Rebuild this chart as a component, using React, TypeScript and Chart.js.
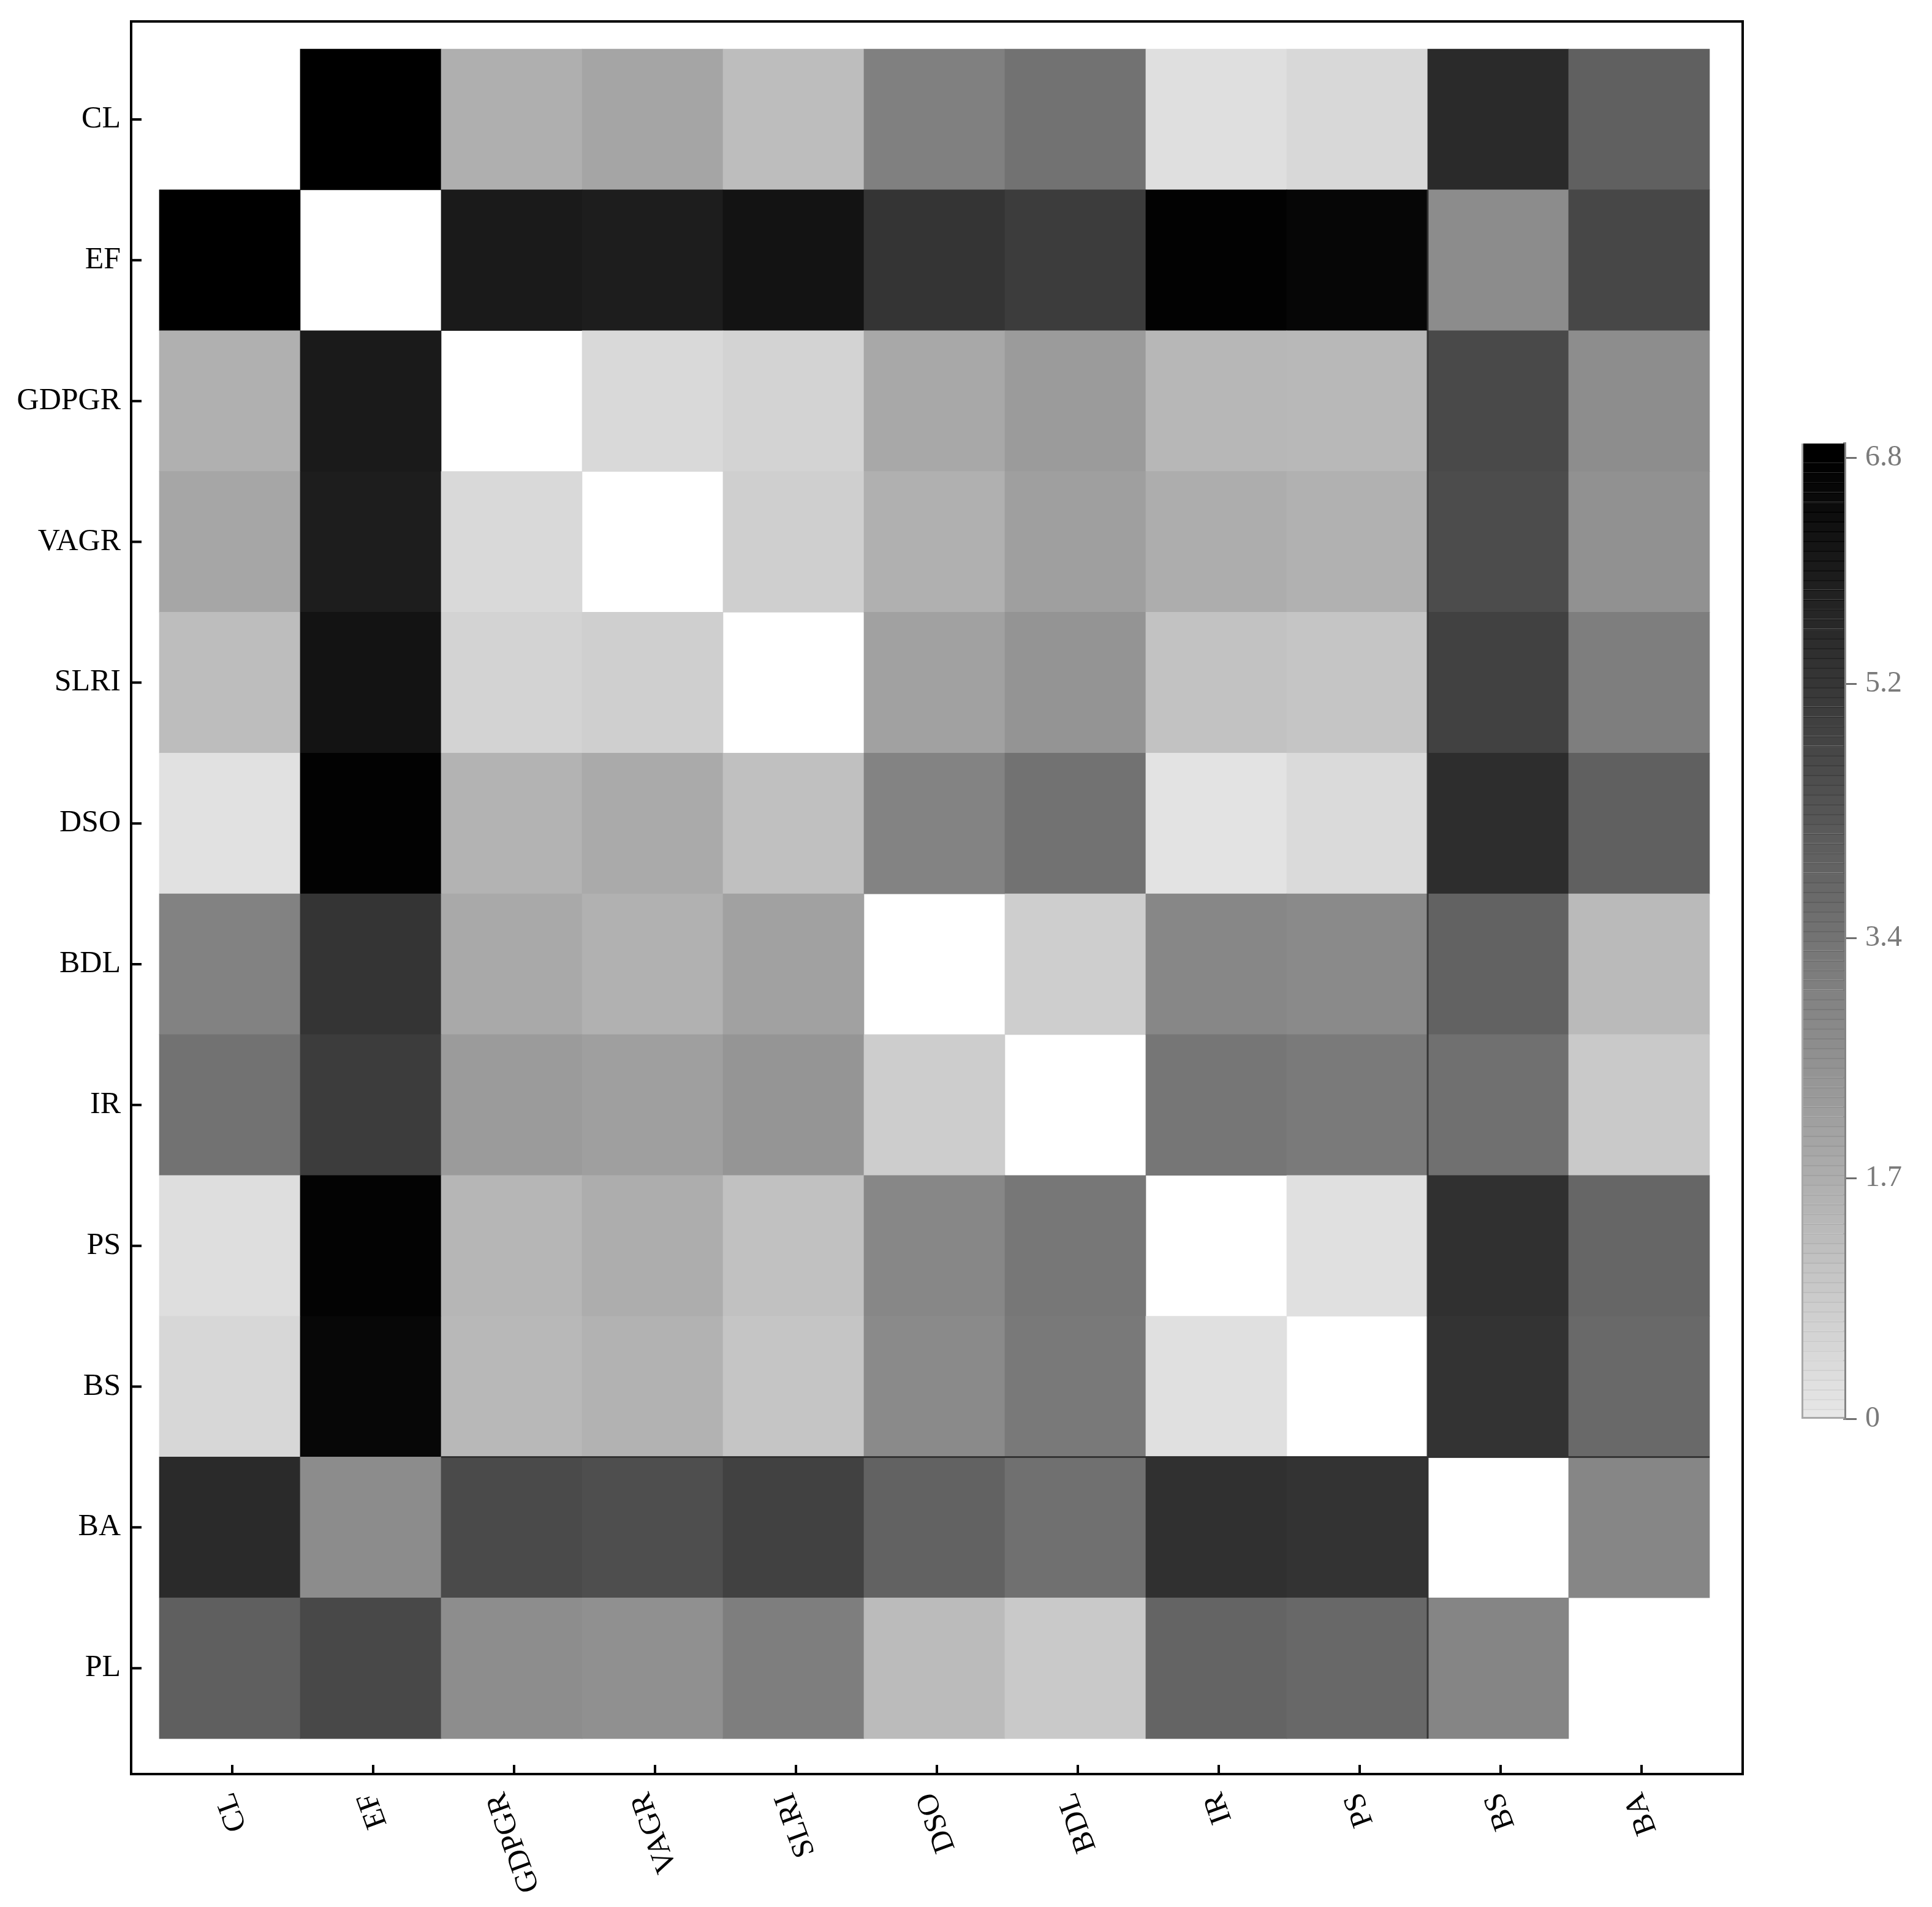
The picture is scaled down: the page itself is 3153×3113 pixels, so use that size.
import React, { useEffect, useRef } from "react";
import { Chart, registerables } from "chart.js";

Chart.register(...registerables);

// ---- data ----
const rowLabels = ["CL", "EF", "GDPGR", "VAGR", "SLRI", "DSO", "BDL", "IR", "PS", "BS", "BA", "PL"];
const colLabels = ["CL", "EF", "GDPGR", "VAGR", "SLRI", "DSO", "BDL", "IR", "PS", "BS", "BA"];

const rowCL = [null, 6.8, 1.67, 1.96, 1.26, 3.05, 3.46, 0.26, 0.47, 5.57, 3.99];
const rowEF = [6.8, null, 6.04, 5.95, 6.24, 5.28, 5.04, 6.74, 6.62, 2.7, 4.72];
const rowGDPGR = [1.64, 6.04, null, 0.44, 0.62, 1.88, 2.26, 1.44, 1.41, 4.66, 2.67];
const rowVAGR = [1.93, 5.95, 0.44, null, 0.73, 1.64, 2.14, 1.73, 1.61, 4.57, 2.55];
const rowSLRI = [1.26, 6.24, 0.62, 0.73, null, 2.08, 2.46, 1.11, 1.03, 4.89, 3.11];
const rowDSO = [0.21, 6.74, 1.55, 1.82, 1.17, 2.96, 3.46, 0.15, 0.41, 5.48, 3.99];
const rowBDL = [2.99, 5.28, 1.85, 1.61, 2.08, null, 0.76, 2.84, 2.76, 3.93, 1.35];
const rowIR = [3.46, 5.04, 2.26, 2.14, 2.43, 0.79, null, 3.34, 3.22, 3.52, 0.91];
const rowPS = [0.29, 6.71, 1.47, 1.73, 1.14, 2.84, 3.31, null, 0.23, 5.39, 3.81];
const rowBS = [0.5, 6.59, 1.41, 1.58, 1.03, 2.76, 3.25, 0.23, null, 5.31, 3.72];
const rowBA = [5.57, 2.7, 4.63, 4.51, 4.89, 3.93, 3.52, 5.39, 5.31, null, 2.87];
const rowPL = [4.02, 4.69, 2.67, 2.58, 3.11, 1.32, 0.91, 3.87, 3.75, 2.9, null];

const matrix = [rowCL, rowEF, rowGDPGR, rowVAGR, rowSLRI, rowDSO, rowBDL, rowIR, rowPS, rowBS, rowBA, rowPL];

const colorbarTicks = [0, 1.7, 3.4, 5.2, 6.8];
const colorMin = 0;
const colorMax = 6.8;
const colorbarTop = 6.9;

// ---- colour map (light grey -> black) ----
function grayLevel(v: number) {
  const t = Math.min(Math.max((v - colorMin) / (colorMax - colorMin), 0), 1);
  return Math.round(232 * (1 - t));
}
function grayFor(v: number, darken = 0) {
  const g = Math.max(0, grayLevel(v) - darken);
  return `rgb(${g},${g},${g})`;
}

const FONT = "'Liberation Serif', 'Times New Roman', serif";
const XH = 200;
const LABEL_SIZE = 50;

const framePlugin = {
  id: "heatFrame",
  afterDraw(chart: any) {
    const { ctx, chartArea: a, scales } = chart;
    const x = scales.x;
    const y = scales.y;
    ctx.save();
    // thin dark block edges seen in the picture
    ctx.strokeStyle = "rgba(45,45,45,0.9)";
    ctx.lineWidth = 3;
    const xb = x.getPixelForValue(8.5);
    const yb = y.getPixelForValue(9.5);
    ctx.beginPath();
    ctx.moveTo(xb, y.getPixelForValue(0.5));
    ctx.lineTo(xb, y.getPixelForValue(11.5));
    ctx.moveTo(x.getPixelForValue(1.5), yb);
    ctx.lineTo(x.getPixelForValue(10.5), yb);
    ctx.stroke();

    // frame
    ctx.strokeStyle = "#000";
    ctx.lineWidth = 4;
    ctx.strokeRect(a.left, a.top, a.right - a.left, a.bottom - a.top);
    // inward ticks
    ctx.beginPath();
    rowLabels.forEach((_, r) => {
      const py = y.getPixelForValue(r);
      ctx.moveTo(a.left, py);
      ctx.lineTo(a.left + 17, py);
    });
    colLabels.forEach((_, c) => {
      const px = x.getPixelForValue(c) + 4;
      ctx.moveTo(px, a.bottom);
      ctx.lineTo(px, a.bottom - 15);
    });
    ctx.stroke();

    // rotated column labels (rotation 110 deg, centred under tick)
    ctx.font = `${LABEL_SIZE}px ${FONT}`;
    ctx.fillStyle = "#000";
    ctx.textAlign = "center";
    ctx.textBaseline = "middle";
    const ang = (-110 * Math.PI) / 180;
    const s70 = Math.sin((70 * Math.PI) / 180);
    const c70 = Math.cos((70 * Math.PI) / 180);
    colLabels.forEach((lab, c) => {
      const px = x.getPixelForValue(c) + 4;
      const L = ctx.measureText(lab).width;
      const h = LABEL_SIZE * 0.7;
      const halfV = (L * s70 + h * c70) / 2;
      ctx.save();
      ctx.translate(px, a.bottom + 26 + halfV);
      ctx.rotate(ang);
      ctx.fillText(lab, 0, 0);
      ctx.restore();
    });
    ctx.restore();
  },
};

const cbFramePlugin = {
  id: "cbFrame",
  afterDraw(chart: any) {
    const { ctx, chartArea: a } = chart;
    ctx.save();
    ctx.strokeStyle = "#a8a8a8";
    ctx.lineWidth = 3;
    ctx.beginPath();
    ctx.moveTo(a.left + 1.5, a.top);
    ctx.lineTo(a.left + 1.5, a.bottom - 1.5);
    ctx.lineTo(a.right, a.bottom - 1.5);
    ctx.stroke();
    ctx.restore();
  },
};

export default function App() {
  const mainRef = useRef<HTMLCanvasElement>(null);
  const cbRef = useRef<HTMLCanvasElement>(null);

  useEffect(() => {
    const cells: any[] = [];
    matrix.forEach((row, r) =>
      row.forEach((v, c) => {
        if (v !== null) cells.push({ x: c, y: [r - 0.5, r + 0.5], v });
      })
    );

    const main = new Chart(mainRef.current as HTMLCanvasElement, {
      type: "bar",
      data: {
        datasets: [
          {
            data: cells,
            backgroundColor: (ctx: any) => grayFor(ctx.raw ? ctx.raw.v : 0),
            borderWidth: 0,
            barPercentage: 1,
            categoryPercentage: 1,
          } as any,
        ],
      },
      options: {
        animation: false,
        responsive: false,
        devicePixelRatio: 1,
        layout: { padding: { left: 0, top: 35, right: 3153 - 2844, bottom: 3113 - 2896 - XH } },
        plugins: { legend: { display: false }, tooltip: { enabled: false } },
        scales: {
          x: {
            type: "linear",
            position: "bottom",
            offset: false,
            min: -0.7,
            max: 10.735,
            grid: { display: false, offset: false },
            border: { display: false },
            afterBuildTicks: (s: any) => {
              s.ticks = colLabels.map((_, i) => ({ value: i }));
            },
            afterFit: (s: any) => {
              s.height = XH;
              s.paddingLeft = 0;
              s.paddingRight = 0;
            },
            ticks: { display: false, autoSkip: false },
          },
          y: {
            type: "linear",
            reverse: true,
            offset: false,
            min: -0.696,
            max: 11.752,
            grid: { display: false },
            border: { display: false },
            afterBuildTicks: (s: any) => {
              s.ticks = rowLabels.map((_, i) => ({ value: i }));
            },
            afterFit: (s: any) => {
              s.width = 214;
              s.paddingTop = 0;
              s.paddingBottom = 0;
            },
            ticks: {
              autoSkip: false,
              padding: 9,
              color: "#000",
              font: { family: FONT, size: LABEL_SIZE },
              callback: (v: any) => rowLabels[v] ?? "",
            },
          },
        },
      } as any,
      plugins: [framePlugin],
    });

    const segs: any[] = [];
    const nSeg = 100;
    const step = colorbarTop / nSeg;
    for (let k = 0; k < nSeg; k++) {
      const lo = k * step;
      const hi = (k + 1) * step;
      segs.push({ x: 0, y: [lo, hi], v: (lo + hi) / 2 });
    }

    const cb = new Chart(cbRef.current as HTMLCanvasElement, {
      type: "bar",
      data: {
        datasets: [
          {
            data: segs,
            backgroundColor: (ctx: any) => grayFor(ctx.raw ? ctx.raw.v : 0),
            borderColor: (ctx: any) => grayFor(ctx.raw ? ctx.raw.v : 0, 14),
            borderWidth: { top: 2, bottom: 0, left: 0, right: 0 },
            borderSkipped: false,
            barPercentage: 1,
            categoryPercentage: 1,
          } as any,
        ],
      },
      options: {
        animation: false,
        responsive: false,
        devicePixelRatio: 1,
        layout: { padding: { left: 60, top: 44, right: 0, bottom: 64 } },
        plugins: { legend: { display: false }, tooltip: { enabled: false } },
        scales: {
          x: {
            type: "linear",
            display: false,
            offset: false,
            min: -0.5,
            max: 0.5,
            afterBuildTicks: (s: any) => {
              s.ticks = [{ value: 0 }];
            },
          },
          y: {
            type: "linear",
            position: "right",
            min: 0,
            max: colorbarTop,
            afterBuildTicks: (s: any) => {
              s.ticks = colorbarTicks.map((v) => ({ value: v }));
            },
            afterFit: (s: any) => {
              s.width = 143;
              s.paddingTop = 0;
              s.paddingBottom = 0;
            },
            grid: {
              display: true,
              drawOnChartArea: false,
              drawTicks: true,
              tickLength: 20,
              color: "#6e6e6e",
              lineWidth: 3,
            },
            border: { display: true, color: "#858585", width: 5 },
            ticks: {
              autoSkip: false,
              padding: 14,
              color: "#7a7a7a",
              font: { family: FONT, size: 48 },
              callback: (v: any) => String(v),
            },
          },
        },
      } as any,
      plugins: [cbFramePlugin],
    });

    return () => {
      main.destroy();
      cb.destroy();
    };
  }, []);

  return (
    <div
      style={{
        position: "absolute",
        left: 0,
        top: 0,
        width: 3153,
        height: 3113,
        background: "#fff",
        overflow: "hidden",
      }}
    >
      <canvas ref={mainRef} width={3153} height={3113} style={{ position: "absolute", left: 0, top: 0 }} />
      <canvas ref={cbRef} width={273} height={1700} style={{ position: "absolute", left: 2880, top: 680 }} />
    </div>
  );
}
